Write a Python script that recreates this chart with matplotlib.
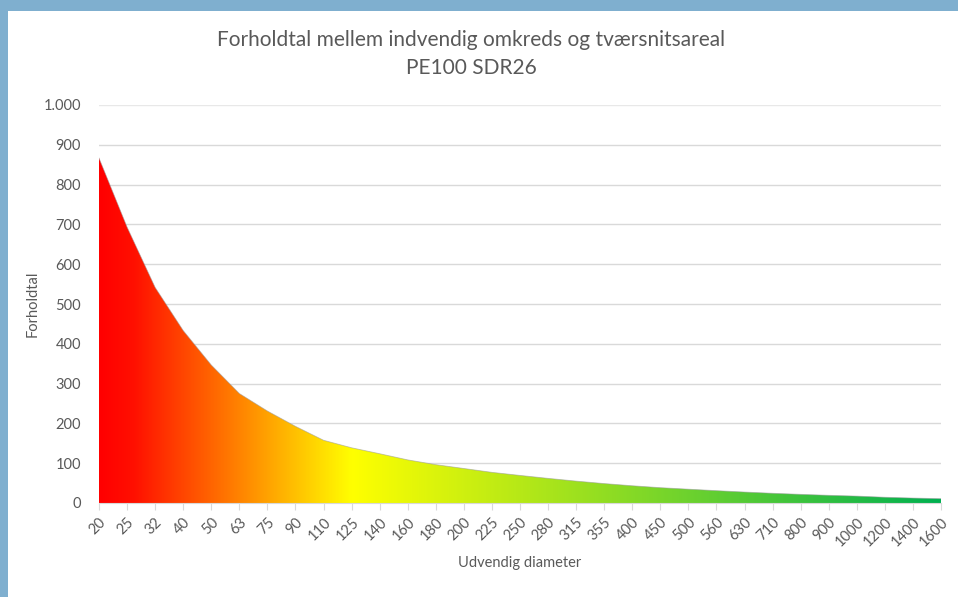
import numpy as np
import matplotlib
matplotlib.use("Agg")
import matplotlib.pyplot as plt
from matplotlib.colors import LinearSegmentedColormap
from matplotlib.patches import Rectangle

plt.rcParams['font.family'] = ['Lato', 'DejaVu Sans']

# ---------- Data ----------
diameters = ["20", "25", "32", "40", "50", "63", "75", "90", "110", "125", "140",
             "160", "180", "200", "225", "250", "280", "315", "355", "400", "450",
             "500", "560", "630", "710", "800", "900", "1000", "1200", "1400", "1600"]
ratio = [866.7, 693.3, 541.7, 433.3, 346.7, 275.1, 231.1, 192.6, 157.6, 138.7, 123.8,
         108.3, 96.3, 86.7, 77.0, 69.3, 61.9, 55.0, 48.8, 43.3, 38.5,
         34.7, 31.0, 27.5, 24.4, 21.7, 19.3, 17.3, 14.4, 12.4, 10.8]
y_ticks = [0, 100, 200, 300, 400, 500, 600, 700, 800, 900, 1000]

text_col = "#595959"
grid_col = "#D9D9D9"

# ---------- Figure ----------
fig = plt.figure(figsize=(9.58, 5.97), dpi=100)
fig.patch.set_facecolor("#7FAFCF")
fig.patches.append(Rectangle((8 / 958, 0), 1, (597 - 11) / 597,
                             transform=fig.transFigure, facecolor="white",
                             edgecolor="none", zorder=-10))

ax = fig.add_axes([99 / 958, 94 / 597, (941 - 99) / 958, (503 - 105) / 597])
ax.set_facecolor("none")

x = np.arange(len(diameters))
ax.set_xlim(0, len(diameters) - 1)
ax.set_ylim(0, 1000)

# gradient fill red -> yellow -> green, clipped to the area under the curve
cmap = LinearSegmentedColormap.from_list(
    "ryg", [(0.0, "#FF0000"), (0.04, "#FF1000"), (0.30, "#FFFF00"), (1.0, "#00B050")])
area = ax.fill_between(x, ratio, 0, facecolor="none", edgecolor="none")
grad = np.linspace(0, 1, 512).reshape(1, -1)
img = ax.imshow(grad, cmap=cmap, aspect="auto", extent=[0, len(diameters) - 1, 0, 1000],
                origin="lower", zorder=2, interpolation="bicubic")
img.set_clip_path(area.get_paths()[0], transform=ax.transData)
ax.plot(x, ratio, color="#9A9A9A", lw=0.6, alpha=0.6, zorder=3)

# ---------- Axes styling ----------
ax.set_yticks(y_ticks)
ax.set_yticklabels([f"{v:,}".replace(",", ".") for v in y_ticks])
ax.yaxis.grid(True, color=grid_col, lw=1)
ax.get_ygridlines()[-1].set_color("#E8E8E8")
ax.set_axisbelow(True)
ax.tick_params(axis="y", length=0, pad=13, labelsize=10.5, labelcolor=text_col)

ax.set_xticks(x)
ax.set_xticklabels(diameters, rotation=45, ha="right", rotation_mode="anchor")
ax.tick_params(axis="x", length=5, color=grid_col, labelsize=10.5, labelcolor=text_col, pad=4)

for side in ["top", "right", "left"]:
    ax.spines[side].set_visible(False)
ax.spines["bottom"].set_color(grid_col)
ax.spines["bottom"].set_zorder(4)

ax.set_ylabel("Forholdtal", fontsize=10.5, color=text_col)
ax.yaxis.set_label_coords(-0.071, 0.5)
fig.text(520 / 958, 1 - 563 / 597, "Udvendig diameter", ha="center", va="center",
         fontsize=10.5, color=text_col)

fig.text(471 / 958, 1 - 40 / 597, "Forholdtal mellem indvendig omkreds og tværsnitsareal",
         ha="center", va="center", fontsize=15, color=text_col)
fig.text(471 / 958, 1 - 68 / 597, "PE100 SDR26", ha="center", va="center",
         fontsize=15, color=text_col)

fig.savefig("out.png", dpi=100, facecolor=fig.get_facecolor())
